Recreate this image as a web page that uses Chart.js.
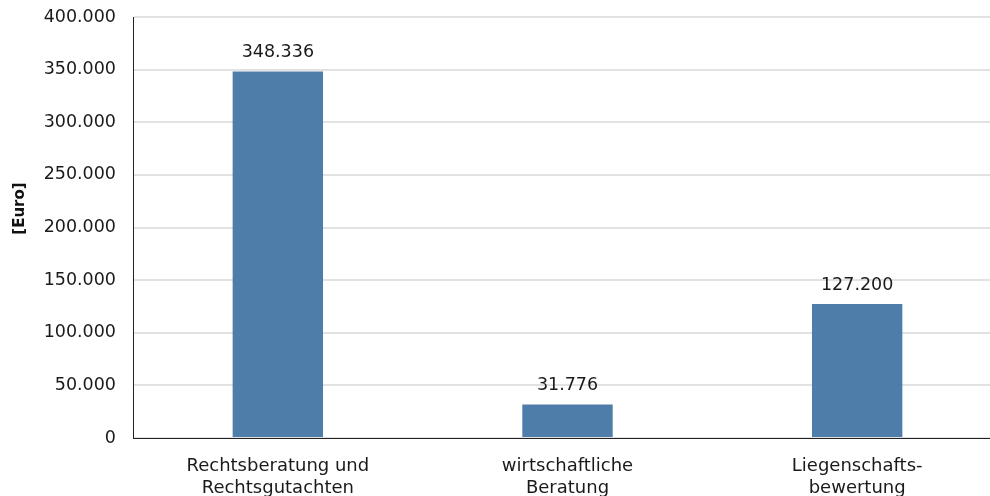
<!DOCTYPE html>
<html>
<head>
<meta charset="utf-8">
<script src="https://cdn.jsdelivr.net/npm/chart.js@4"></script>
<style>
  html, body { margin: 0; padding: 0; background: #fff; overflow: hidden; }
  #wrap { width: 1002px; height: 496px; }
</style>
</head>
<body>
<div id="wrap"><canvas id="chart"></canvas></div>
<script>
// Kategorien und Werte
const categories = [
    ['Rechtsberatung und', 'Rechtsgutachten'],
    ['wirtschaftliche', 'Beratung'],
    ['Liegenschafts-', 'bewertung']
];
const values = [348336, 31776, 127200];
const yTicks = [0, 50000, 100000, 150000, 200000, 250000, 300000, 350000, 400000];
const yTitle = '[Euro]';

const FONT = '"DejaVu Sans", Verdana, sans-serif';

// 400000 -> "400.000"
const fmt = v => String(v).replace(/\B(?=(\d{3})+(?!\d))/g, '.');

// Werte über den Balken + Achsentitel (etwas oberhalb der Mitte wie im Original)
const extras = {
    id: 'extras',
    afterDatasetsDraw(chart) {
        const ctx = chart.ctx;
        const meta = chart.getDatasetMeta(0);
        ctx.save();
        ctx.font = '17.5px ' + FONT;
        ctx.fillStyle = '#1a1a1a';
        ctx.textAlign = 'center';
        ctx.textBaseline = 'bottom';
        meta.data.forEach((bar, i) => {
            ctx.fillText(fmt(values[i]), bar.x, bar.y - 10);
        });
        ctx.restore();

        const area = chart.chartArea;
        ctx.save();
        ctx.translate(20, area.top + (area.bottom - area.top) * 0.455);
        ctx.rotate(-Math.PI / 2);
        ctx.font = 'bold 15px ' + FONT;
        ctx.fillStyle = '#111';
        ctx.textAlign = 'center';
        ctx.textBaseline = 'middle';
        ctx.fillText(yTitle, 0, 0);
        ctx.restore();
    }
};

new Chart(document.getElementById('chart'), {
    type: 'bar',
    data: {
        labels: categories,
        datasets: [{
            data: values,
            backgroundColor: '#4e7daa',
            barPercentage: 0.312,
            categoryPercentage: 1
        }]
    },
    options: {
        responsive: true,
        maintainAspectRatio: false,
        animation: false,
        layout: { padding: { top: 17, left: 0, right: 0, bottom: 0 } },
        plugins: {
            legend: { display: false },
            tooltip: { enabled: false }
        },
        scales: {
            x: {
                grid: { display: false, drawTicks: false },
                border: { color: '#222', width: 1 },
                ticks: {
                    color: '#1a1a1a',
                    font: { family: FONT, size: 18, lineHeight: 1.22 },
                    padding: 17,
                    maxRotation: 0,
                    autoSkip: false
                },
                afterFit(scale) { scale.height = 58; }
            },
            y: {
                min: 0,
                max: 400000,
                afterBuildTicks(scale) { scale.ticks = yTicks.map(v => ({ value: v })); },
                grid: { color: '#e2e2e2', lineWidth: 2, drawTicks: false },
                border: { color: '#222', width: 1 },
                ticks: {
                    color: '#1a1a1a',
                    font: { family: FONT, size: 17.5 },
                    padding: 17,
                    callback: v => fmt(v)
                },
                afterFit(scale) {
                    scale.width = 133;
                    scale.paddingTop = 0;
                    scale.paddingBottom = 0;
                }
            }
        }
    },
    plugins: [extras]
});
</script>
</body>
</html>
